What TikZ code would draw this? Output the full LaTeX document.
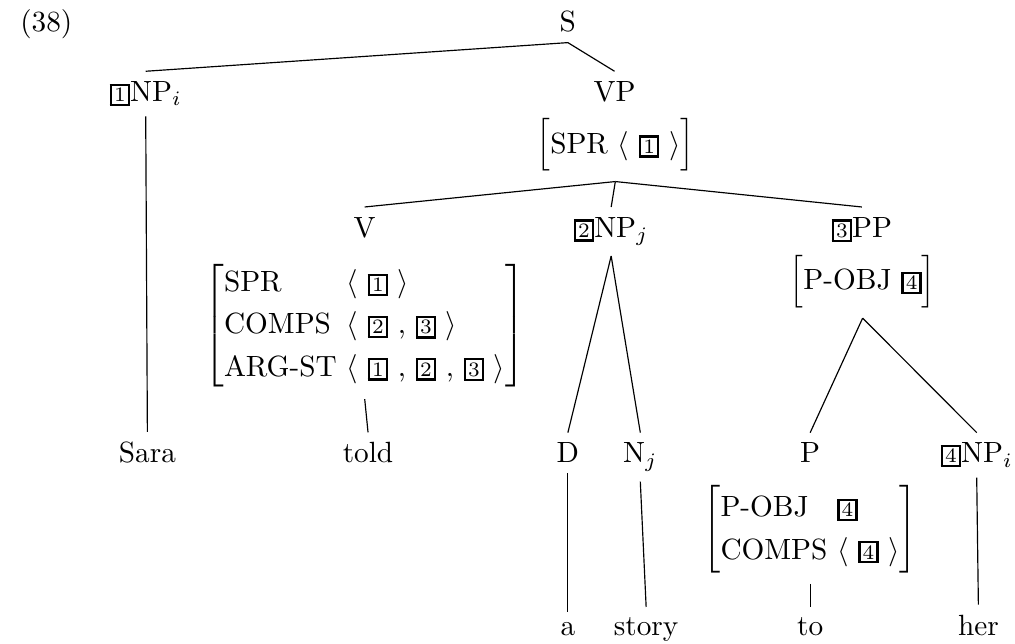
\documentclass[tikz,border=0pt]{standalone}
\usepackage{amsmath}
\usepackage{tikz}

\newcommand{\tagbox}[1]{{\setlength{\fboxsep}{0.7pt}\setlength{\fboxrule}{0.8pt}\fbox{\scriptsize #1}}}
\newcommand{\avm}[1]{$\left[\renewcommand{\arraystretch}{1.2}\begin{tabular}{@{}l@{ }l@{}}#1\end{tabular}\right]$}
\newcommand{\lst}[1]{$\langle$ #1 $\rangle$}

\begin{document}
\begin{tikzpicture}[lab/.style={anchor=base}]
\useasboundingbox (0,0) rectangle (12.19,7.73);
\draw (0.12,7.35) node[anchor=base west] {(38)};
% top of the tree
\draw (6.82,7.35) node[lab] (s) {S};
\draw (1.75,6.51) node[lab] (npi) {\tagbox{1}NP$_i$};
\draw (7.38,6.51) node[lab] (vp) {VP};
\draw (7.39,5.99) node (vpavm) {\avm{SPR & \lst{\tagbox{1}}}};
% second level
\draw (4.38,4.88) node[lab] (v) {V};
\draw (7.34,4.88) node[lab] (npj) {\tagbox{2}NP$_j$};
\draw (10.35,4.88) node[lab] (pp) {\tagbox{3}PP};
\draw (4.38,3.82) node (vavm) {\avm{SPR & \lst{\tagbox{1}}\\
  COMPS & \lst{\tagbox{2} , \tagbox{3}}\\
  ARG-ST & \lst{\tagbox{1} , \tagbox{2} , \tagbox{3}}}};
\draw (10.36,4.35) node (ppavm) {\avm{P-OBJ & \tagbox{4}}};
% third level
\draw (1.77,2.17) node[lab] (sara) {Sara};
\draw (4.42,2.17) node[lab] (told) {told};
\draw (6.82,2.17) node[lab] (d) {D};
\draw (7.69,2.17) node[lab] (nj) {N$_j$};
\draw (9.73,2.17) node[lab] (p) {P};
\draw (11.73,2.17) node[lab] (npk) {\tagbox{4}NP$_i$};
\draw (9.73,1.37) node (pavm) {\avm{P-OBJ & \tagbox{4}\\
  COMPS & \lst{\tagbox{4}}}};
% words
\draw (6.82,0.10) node[lab] (a) {a};
\draw (7.76,0.10) node[lab] (story) {story};
\draw (9.73,0.10) node[lab] (to) {to};
\draw (11.75,0.10) node[lab] (her) {her};
% branches
\draw (s.south) -- (npi.north);
\draw (s.south) -- (vp.north);
\draw (npi.south) -- (sara.north);
\foreach \c in {v,npj,pp}
  \draw (vpavm.south) -- (\c.north);
\draw (vavm.south) -- (told.north);
\foreach \c in {d,nj}
  \draw (npj.south) -- (\c.north);
\draw (d.south) -- (a.north);
\draw (nj.south) -- (story.north);
\foreach \c in {p,npk}
  \draw (ppavm.south) -- (\c.north);
\draw (pavm.south) -- (to.north);
\draw (npk.south) -- (her.north);
\end{tikzpicture}
\end{document}
